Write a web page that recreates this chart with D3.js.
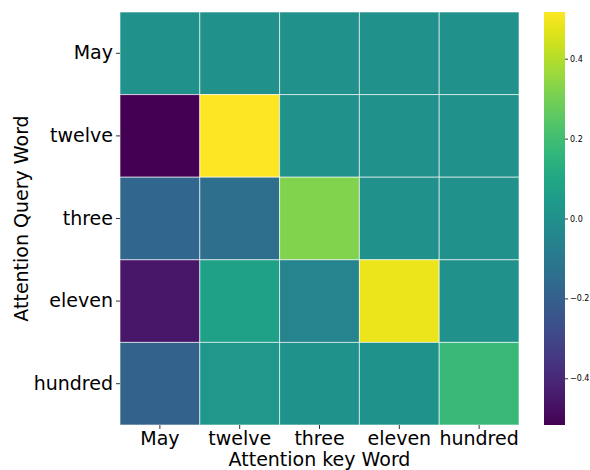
<!DOCTYPE html>
<html>
<head>
<meta charset="utf-8">
<script src="https://cdn.jsdelivr.net/npm/d3@7"></script>
<style>
  body { margin: 0; background: #fff; }
  text { font-family: "DejaVu Sans", sans-serif; fill: #000; }
</style>
</head>
<body>
<script>
// words on both axes
const keyWords = ["May", "twelve", "three", "eleven", "hundred"];
const queryWords = ["May", "twelve", "three", "eleven", "hundred"];

// attention values, one row per query word
const rowMay = [0.0, 0.0, 0.0, 0.0, 0.0];
const rowTwelve = [-0.517, 0.517, 0.0, 0.0, 0.0];
const rowThree = [-0.175, -0.145, 0.32, 0.0, 0.0];
const rowEleven = [-0.455, 0.07, -0.052, 0.485, 0.0];
const rowHundred = [-0.19, 0.03, 0.005, 0.01, 0.18];

const cbarTicks = [-0.4, -0.2, 0.0, 0.2, 0.4];
const vmin = -0.517, vmax = 0.517;

const rows = [rowMay, rowTwelve, rowThree, rowEleven, rowHundred];
const cells = [];
rows.forEach(function(r, i) {
  r.forEach(function(v, j) {
    cells.push({q: queryWords[i], k: keyWords[j], v: v});
  });
});

const W = 590, H = 470;
const pLeft = 120, pTop = 12, pRight = 519, pBottom = 425;

const svg = d3.select("body").append("svg")
    .attr("width", W)
    .attr("height", H);

const x = d3.scaleBand().domain(keyWords).range([pLeft, pRight]);
const y = d3.scaleBand().domain(queryWords).range([pTop, pBottom]);
const color = d3.scaleSequential(d3.interpolateViridis).domain([vmin, vmax]);

svg.append("g").selectAll("rect")
    .data(cells)
    .enter().append("rect")
    .attr("x", function(d) { return x(d.k); })
    .attr("y", function(d) { return y(d.q); })
    .attr("width", x.bandwidth())
    .attr("height", y.bandwidth())
    .attr("fill", function(d) { return color(d.v); })
    .attr("stroke", "rgba(255,255,255,0.6)")
    .attr("stroke-width", 1);

// x axis
const xAxis = svg.append("g")
    .attr("transform", "translate(0," + pBottom + ")")
    .call(d3.axisBottom(x).tickSize(4).tickPadding(3));
xAxis.select(".domain").remove();
xAxis.selectAll("text").style("font-size", "19px");
xAxis.selectAll("line").attr("stroke", "#333");

// y axis
const yAxis = svg.append("g")
    .attr("transform", "translate(" + pLeft + ",0)")
    .call(d3.axisLeft(y).tickSize(4).tickPadding(3));
yAxis.select(".domain").remove();
yAxis.selectAll("text").style("font-size", "19px");
yAxis.selectAll("line").attr("stroke", "#333");

svg.append("text")
    .attr("x", (pLeft + pRight) / 2)
    .attr("y", 466)
    .attr("text-anchor", "middle")
    .style("font-size", "19px")
    .text("Attention key Word");

svg.append("text")
    .attr("transform", "translate(28," + (pTop + pBottom) / 2 + ") rotate(-90)")
    .attr("text-anchor", "middle")
    .style("font-size", "19px")
    .text("Attention Query Word");

// colorbar
const cbX = 544, cbW = 21;
const cbScale = d3.scaleLinear().domain([vmin, vmax]).range([pBottom, pTop]);

const grad = svg.append("defs").append("linearGradient")
    .attr("id", "cbar")
    .attr("x1", "0").attr("y1", "1").attr("x2", "0").attr("y2", "0");
d3.range(0, 1.0001, 0.05).forEach(function(t) {
  grad.append("stop")
      .attr("offset", t)
      .attr("stop-color", d3.interpolateViridis(t));
});

svg.append("rect")
    .attr("x", cbX)
    .attr("y", pTop)
    .attr("width", cbW)
    .attr("height", pBottom - pTop)
    .attr("fill", "url(#cbar)");

const cAxis = svg.append("g")
    .attr("transform", "translate(" + (cbX + cbW) + ",0)")
    .call(d3.axisRight(cbScale).tickValues(cbarTicks).tickFormat(d3.format(".1f")).tickSize(3).tickPadding(2));
cAxis.select(".domain").remove();
cAxis.selectAll("text").style("font-size", "8px");
cAxis.selectAll("line").attr("stroke", "#333");
</script>
</body>
</html>
